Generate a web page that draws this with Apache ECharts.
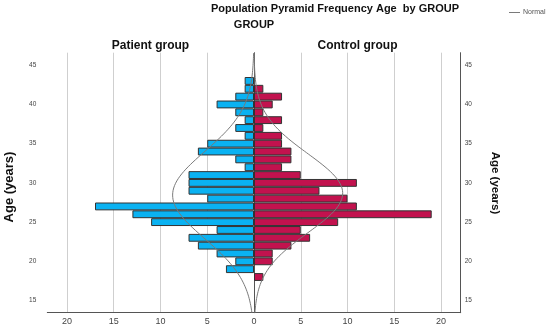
<!DOCTYPE html>
<html>
<head>
<meta charset="utf-8">
<script src="https://cdn.jsdelivr.net/npm/echarts@6/dist/echarts.min.js"></script>
<style>
html,body{margin:0;padding:0;background:#fff;}
#chart{width:550px;height:329px;}
</style>
</head>
<body>
<div id="chart"></div>
<script>
// ---- Data ----
const ages = [18,19,20,21,22,23,24,25,26,27,28,29,30,31,32,33,34,35,36,37,38,39,40,41,42,43];
const patientCounts = [0,3,2,4,6,7,4,11,13,17,5,7,7,7,1,2,6,5,1,2,1,2,4,2,1,1];
const controlCounts = [1,0,2,2,4,6,5,9,19,11,10,7,11,5,3,4,4,3,3,1,3,1,2,3,1,0];
const groupNames = ['Patient group','Control group'];
const ageTicks = [15,20,25,30,35,40,45];
const freqTicks = [-20,-15,-10,-5,0,5,10,15,20];

// ---- Layout ----
const W = 550, H = 329;
const frame = {left: 47.3, right: 460.7, top: 52.7, bottom: 312.7};
const X_MAX = 22.1;
const Y_MIN = 13.45, Y_MAX = 46.6;
const pxPerYear = (frame.bottom - frame.top) / (Y_MAX - Y_MIN);
const minAge = ages[0], maxAge = ages[ages.length-1];
const barTop = frame.top + (Y_MAX - (maxAge + 0.5)) * pxPerYear;
const barBottom = frame.top + (Y_MAX - (minAge - 0.5)) * pxPerYear;

// Normal curve from the histogram counts
function normalCurve(counts, sign) {
  let n = 0, s = 0;
  counts.forEach((c,i)=>{ n += c; s += c*ages[i]; });
  const mean = s / n;
  let v = 0;
  counts.forEach((c,i)=>{ v += c*(ages[i]-mean)*(ages[i]-mean); });
  const sd = Math.sqrt(v/(n-1));
  const pts = [];
  for (let y = Y_MIN; y <= Y_MAX + 1e-9; y += 0.05) {
    const d = n / (sd*Math.sqrt(2*Math.PI)) * Math.exp(-0.5*Math.pow((y-mean)/sd,2));
    pts.push([sign*d, y]);
  }
  return pts;
}

const chart = echarts.init(document.getElementById('chart'), null, {renderer:'canvas'});
const FONT = 'Liberation Sans, Arial, sans-serif';
const gridLineColors = freqTicks.map(v => v === 0 ? 'rgba(0,0,0,0)' : '#cfcfcf');

const option = {
  animation: false,
  backgroundColor: '#fff',
  textStyle: {fontFamily: FONT},
  grid: [
    {left: frame.left, right: W - frame.right, top: frame.top, bottom: H - frame.bottom, containLabel: false},
    {left: frame.left, right: W - frame.right, top: barTop, bottom: H - barBottom, containLabel: false}
  ],
  legend: {
    data: [{name: 'Normal', icon: 'rect'}], left: 509, top: 9, padding: 0,
    itemWidth: 11, itemHeight: 1, itemGap: 3,
    itemStyle: {color: '#7a7a7a', borderWidth: 0},
    textStyle: {fontSize: 7, color: '#555', fontFamily: FONT, padding: [0,0,0,-2]}
  },
  xAxis: [
    {
      type: 'value', gridIndex: 0, min: -X_MAX, max: X_MAX,
      axisLine: {show: true, lineStyle: {color: '#555', width: 1}},
      axisTick: {show: false, customValues: freqTicks},
      axisLabel: {customValues: freqTicks, formatter: v => String(Math.abs(v)), fontSize: 9, color: '#444', margin: 4, fontFamily: FONT},
      splitLine: {show: true, lineStyle: {color: gridLineColors, width: 1}}
    },
    {
      type: 'value', gridIndex: 1, min: -X_MAX, max: X_MAX, show: false,
      splitLine: {show: false}
    }
  ],
  yAxis: [
    {
      type: 'value', gridIndex: 0, min: Y_MIN, max: Y_MAX, position: 'left',
      axisLine: {show: true, lineStyle: {color: '#555', width: 1}},
      axisTick: {show: false, customValues: ageTicks},
      axisLabel: {customValues: ageTicks, fontSize: 6.5, color: '#444', margin: 11, padding: [4,0,0,0], fontFamily: FONT},
      splitLine: {show: false}
    },
    {
      type: 'value', gridIndex: 0, min: Y_MIN, max: Y_MAX, position: 'right',
      axisLine: {show: true, lineStyle: {color: '#555', width: 1}},
      axisTick: {show: false, customValues: ageTicks},
      axisLabel: {customValues: ageTicks, fontSize: 6.5, color: '#444', margin: 4, padding: [4,0,0,0], fontFamily: FONT},
      splitLine: {show: false}
    },
    {
      type: 'category', gridIndex: 1, data: ages.map(String), show: false,
      boundaryGap: true
    }
  ],
  series: [
    {
      name: groupNames[0], type: 'bar', xAxisIndex: 1, yAxisIndex: 2,
      data: patientCounts.map(v => v ? -v : null),
      barWidth: '100%', barGap: '-100%',
      itemStyle: {color: '#0AB2F2', borderColor: '#333', borderWidth: 1}
    },
    {
      name: groupNames[1], type: 'bar', xAxisIndex: 1, yAxisIndex: 2,
      data: controlCounts.map(v => v ? v : null),
      barWidth: '100%', barGap: '-100%',
      itemStyle: {color: '#C2124E', borderColor: '#333', borderWidth: 1}
    },
    {
      name: 'Normal', type: 'line', xAxisIndex: 0, yAxisIndex: 0,
      data: normalCurve(patientCounts, -1), symbol: 'none', z: 5,
      lineStyle: {color: '#7a7a7a', width: 1}, itemStyle: {color: '#7a7a7a'}
    },
    {
      name: 'Normal', type: 'line', xAxisIndex: 0, yAxisIndex: 0,
      data: normalCurve(controlCounts, 1), symbol: 'none', z: 5,
      lineStyle: {color: '#7a7a7a', width: 1}, itemStyle: {color: '#7a7a7a'}
    }
  ],
  graphic: [
    {type: 'text', x: 335, y: 8.5, style: {text: 'Population Pyramid Frequency Age  by GROUP', font: 'bold 11px ' + FONT, fill: '#111', align: 'center', verticalAlign: 'middle'}},
    {type: 'text', x: 254, y: 24.5, style: {text: 'GROUP', font: 'bold 11px ' + FONT, fill: '#111', align: 'center', verticalAlign: 'middle'}},
    {type: 'text', x: 150.5, y: 45.5, style: {text: groupNames[0], font: 'bold 12px ' + FONT, fill: '#111', align: 'center', verticalAlign: 'middle'}},
    {type: 'text', x: 357.5, y: 45.5, style: {text: groupNames[1], font: 'bold 12px ' + FONT, fill: '#111', align: 'center', verticalAlign: 'middle'}},
    {type: 'text', x: 9.5, y: 187, rotation: Math.PI/2, style: {text: 'Age (years)', font: 'bold 13px ' + FONT, fill: '#111', align: 'center', verticalAlign: 'middle'}},
    {type: 'text', x: 495, y: 183, rotation: -Math.PI/2, style: {text: 'Age (years)', font: 'bold 11.5px ' + FONT, fill: '#111', align: 'center', verticalAlign: 'middle'}}
  ]
};
chart.setOption(option);
</script>
</body>
</html>
